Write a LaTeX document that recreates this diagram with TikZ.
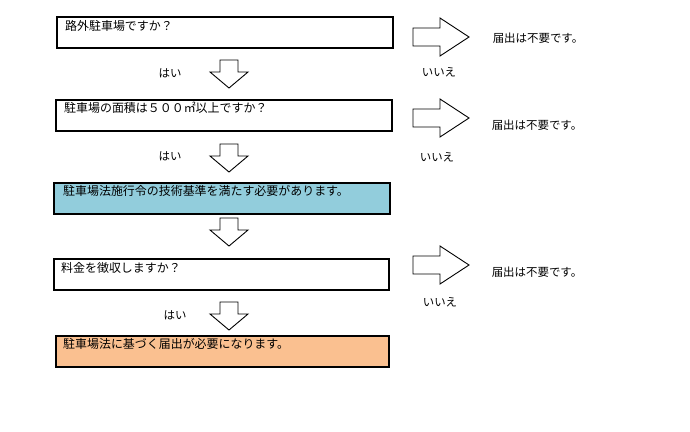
\documentclass[tikz,border=0pt]{standalone}
\usepackage{fontspec}
\setmainfont{Noto Sans CJK JP}
\definecolor{stepblue}{HTML}{92CDDC}
\definecolor{steporange}{HTML}{FAC090}
\begin{document}
\begin{tikzpicture}[x=1bp,y=-1bp,
  box/.style={draw,line width=1.6bp,anchor=north west,inner sep=0pt,minimum height=31bp},
  txt/.style={anchor=west,inner sep=0pt,font=\fontsize{12}{14}\selectfont},
  lbl/.style={inner sep=0pt,font=\fontsize{11.5}{14}\selectfont},
  blockarrow/.style={draw,fill=white,line width=0.9bp,line join=miter}]
\useasboundingbox (0,0) rectangle (690,431);
% question and result boxes
\node[box,minimum width=336bp] (q1) at (56,16) {};
\node[box,minimum width=336bp] (q2) at (55,99) {};
\node[box,minimum width=336bp,fill=stepblue] (r1) at (53,182) {};
\node[box,minimum width=335bp] (q3) at (53,258) {};
\node[box,minimum width=333bp,fill=steporange] (r2) at (55,335) {};
\node[txt] (q1t) at ([shift={(9,10)}]q1.north west) {路外駐車場ですか？};
\node[txt] (q2t) at ([shift={(9,9)}]q2.north west) {駐車場の面積は５００㎡以上ですか？};
\node[txt] (r1t) at ([shift={(10,9)}]r1.north west) {駐車場法施行令の技術基準を満たす必要があります。};
\node[txt] (q3t) at ([shift={(8,10)}]q3.north west) {料金を徴収しますか？};
\node[txt] (r2t) at ([shift={(8,9)}]r2.north west) {駐車場法に基づく届出が必要になります。};
% down arrows (yes)
\foreach \y in {60,144,218,302} {
\draw[blockarrow] (220,\y) -- (238,\y) -- (238,\y+12) -- (248,\y+12) -- (229,\y+28)
  -- (210,\y+12) -- (220,\y+12) -- cycle;
}
\node[lbl] (yes1) at (170,73) {はい};
\node[lbl] (yes2) at (170,156) {はい};
\node[lbl] (yes3) at (175,315) {はい};
% right arrows (no)
\foreach \y in {37,118,265} {
\draw[blockarrow] (413,\y-9) -- (440,\y-9) -- (440,\y-19) -- (469,\y) -- (440,\y+19)
  -- (440,\y+9) -- (413,\y+9) -- cycle;
}
\node[lbl] (no1) at (439,72) {いいえ};
\node[lbl] (no2) at (437,157) {いいえ};
\node[lbl] (no3) at (440,302) {いいえ};
\node[lbl] (end1) at (538,38) {届出は不要です。};
\node[lbl] (end2) at (537,125) {届出は不要です。};
\node[lbl] (end3) at (537,272) {届出は不要です。};
\end{tikzpicture}
\end{document}
